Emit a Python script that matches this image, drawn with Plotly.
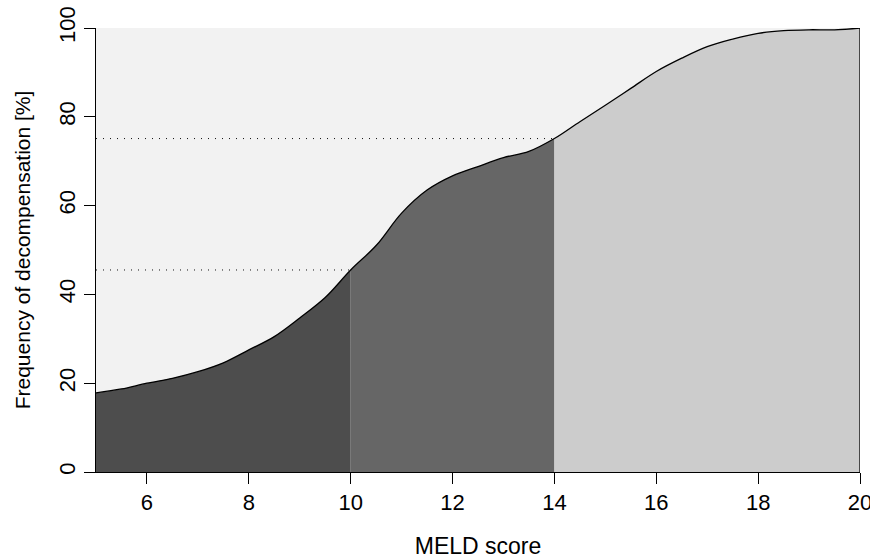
import plotly.graph_objects as go

# MELD score (x) and frequency of decompensation in % (y)
meld = [5, 5.5, 6, 6.5, 7, 7.5, 8, 8.5, 9, 9.5, 10, 10.5, 11, 11.5, 12, 12.5, 13,
        13.5, 14, 14.5, 15, 15.5, 16, 16.5, 17, 17.5, 18, 18.5, 19, 19.5, 20]
freq = [17.8, 18.7, 20.0, 21.1, 22.6, 24.6, 27.5, 30.5, 34.7, 39.3, 45.5, 51.0,
        58.3, 63.5, 66.7, 68.8, 70.8, 72.2, 75.1, 78.9, 82.6, 86.4, 90.2, 93.2,
        95.8, 97.5, 98.8, 99.4, 99.6, 99.6, 100]

# cut-offs splitting the area, and the frequency reached at each cut-off
cut_scores = [10, 14]
cut_freq = [45.5, 75.1]

segment_bounds = [(5, 10), (10, 14), (14, 20)]
segment_colors = ["#4D4D4D", "#666666", "#CCCCCC"]

x_ticks = [6, 8, 10, 12, 14, 16, 18, 20]
y_ticks = [0, 20, 40, 60, 80, 100]

FONT = "Liberation Sans, Arial, Helvetica, sans-serif"

fig = go.Figure()

for (lo, hi), col in zip(segment_bounds, segment_colors):
    xs = [m for m in meld if lo <= m <= hi]
    ys = [f for m, f in zip(meld, freq) if lo <= m <= hi]
    fig.add_trace(go.Scatter(
        x=xs, y=ys, mode="lines", fill="tozeroy", fillcolor=col,
        line=dict(color=col, width=0, shape="spline", smoothing=1),
        hoverinfo="skip", showlegend=False))

# dotted reference lines from the y axis to the curve at each cut-off
for cs, cf in zip(cut_scores, cut_freq):
    fig.add_trace(go.Scatter(
        x=[meld[0], cs], y=[cf, cf], mode="lines",
        line=dict(color="#111111", width=1, dash="1px,6px"),
        hoverinfo="skip", showlegend=False))

# the curve itself
fig.add_trace(go.Scatter(
    x=meld, y=freq, mode="lines",
    line=dict(color="black", width=1.3, shape="spline", smoothing=1),
    showlegend=False))

# closing edge at the right end of the curve
fig.add_trace(go.Scatter(
    x=[meld[-1], meld[-1]], y=[freq[-1], 0], mode="lines",
    line=dict(color="black", width=1.3), hoverinfo="skip", showlegend=False))

fig.update_layout(
    width=870, height=559,
    margin=dict(l=96, r=10, t=28, b=87),
    paper_bgcolor="white",
    plot_bgcolor="#F2F2F2",
    font=dict(family=FONT, size=22, color="black"),
    showlegend=False,
)

fig.update_xaxes(
    range=[5, 20], tickvals=x_ticks, ticktext=[str(t) for t in x_ticks],
    ticks="outside", ticklen=11, tickwidth=1, tickcolor="black",
    showline=True, linecolor="black", linewidth=1,
    showgrid=False, zeroline=False, automargin=False,
    ticklabeloverflow="allow",
    tickfont=dict(size=22),
    title=dict(text="MELD score", font=dict(size=23), standoff=27),
)
fig.update_yaxes(
    range=[0, 100], tickvals=y_ticks, ticktext=[str(t) for t in y_ticks],
    ticks="outside", ticklen=11, tickwidth=1, tickcolor="black",
    showline=True, linecolor="black", linewidth=1,
    showgrid=False, zeroline=False, tickangle=-90, automargin=False,
    ticklabeloverflow="allow",
    tickfont=dict(size=22),
    title=dict(text="Frequency of decompensation [%]", font=dict(size=21), standoff=18),
)

fig.write_html(
    "out.html",
    config={"displayModeBar": False},
    post_script="document.body.style.margin='0';document.body.style.overflow='hidden';",
)
